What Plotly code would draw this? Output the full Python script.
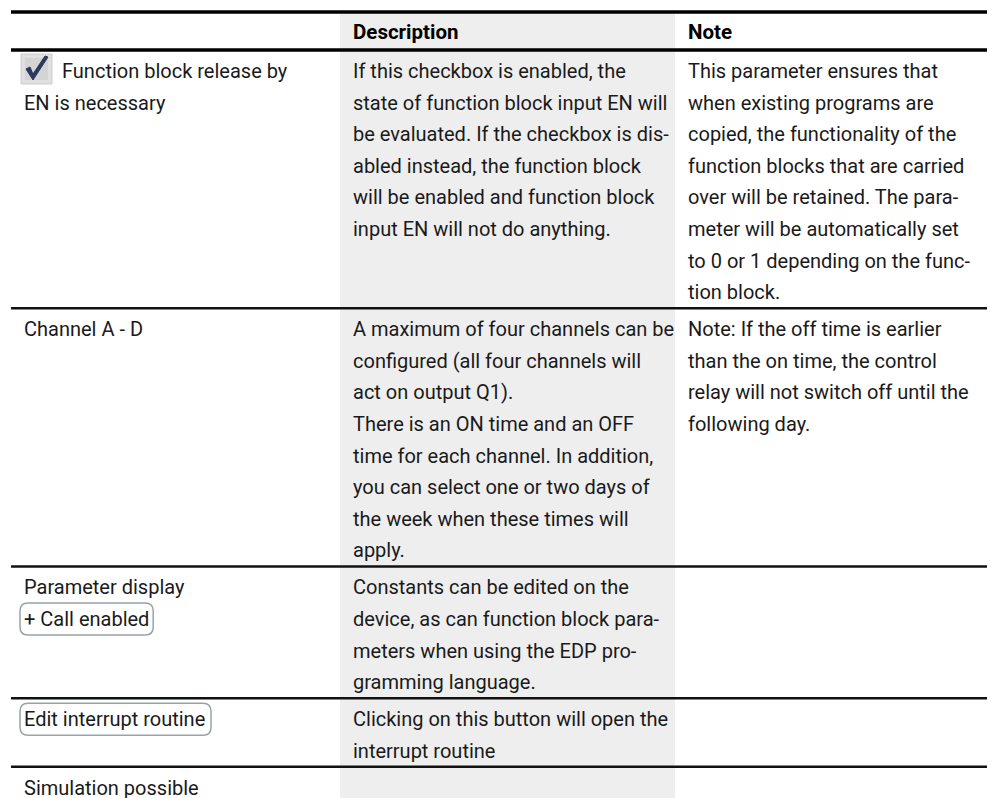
import plotly.graph_objects as go

# ---- table content ----
headers = ["", "Description", "Note"]
col_parameter = [
    ["Function block release by", "EN is necessary"],
    ["Channel A - D"],
    ["Parameter display", "+ Call enabled"],
    ["Edit interrupt routine"],
    ["Simulation possible"],
]
col_description = [
    ["If this checkbox is enabled, the", "state of function block input EN will",
     "be evaluated. If the checkbox is dis-", "abled instead, the function block",
     "will be enabled and function block", "input EN will not do anything."],
    ["A maximum of four channels can be", "configured (all four channels will",
     "act on output Q1).", "There is an ON time and an OFF",
     "time for each channel. In addition,", "you can select one or two days of",
     "the week when these times will", "apply."],
    ["Constants can be edited on the", "device, as can function block para-",
     "meters when using the EDP pro-", "gramming language."],
    ["Clicking on this button will open the", "interrupt routine"],
    [],
]
col_note = [
    ["This parameter ensures that", "when existing programs are",
     "copied, the functionality of the", "function blocks that are carried",
     "over will be retained. The para-", "meter will be automatically set",
     "to 0 or 1 depending on the func-", "tion block."],
    ["Note: If the off time is earlier", "than the on time, the control",
     "relay will not switch off until the", "following day."],
    [], [], [],
]
# which parameter cells are shown as a checkbox / button
checkbox_cells = [(0, 0)]          # (row, line)
button_cells = [(2, 1), (3, 0)]    # (row, line)

# ---- layout constants ----
W, H = 995, 798
OFF = 8            # page body margin around the plot div
FONT = "Roboto, Liberation Sans, Arial, sans-serif"
FS = 20
FS_HEAD = 20.5
TXT = "#1a1a1a"
col_x = [11, 340, 675, W]
pad = 11
top_line = 12
header_bottom = 50
line_h = 31.6
first_off = 21
last_off = 16

# rough glyph advance widths (em) for estimating button outlines
_w = {c: 0.56 for c in "abcdeghknopqsuvxyz0123456789"}
_w.update({"i": 0.25, "l": 0.25, "j": 0.25, "t": 0.34, "f": 0.35, "r": 0.35, "m": 0.875,
           "w": 0.75, " ": 0.26, "+": 0.57, "C": 0.65, "E": 0.58})


def text_width(s):
    return sum(_w.get(ch, 0.6) for ch in s) * FS


fig = go.Figure()
shapes = []
annotations = []

# grey description column
shapes.append(dict(type="rect", xref="x", yref="y", x0=col_x[1], x1=col_x[2],
                   y0=top_line, y1=H + 10, fillcolor="#eeeeee", line_width=0, layer="below"))

# header
for i, h in enumerate(headers):
    if h:
        annotations.append(dict(x=col_x[i] + pad, y=(top_line + header_bottom) / 2 + 0.5, text="<b>%s</b>" % h,
                                xanchor="left", yanchor="middle", showarrow=False,
                                font=dict(family=FONT, size=FS_HEAD, color="#000")))

shapes.append(dict(type="line", xref="x", yref="y", x0=col_x[0], x1=W, y0=top_line, y1=top_line,
                   line=dict(color="#000", width=3.5)))
shapes.append(dict(type="line", xref="x", yref="y", x0=col_x[0], x1=W, y0=header_bottom, y1=header_bottom,
                   line=dict(color="#000", width=3.5)))


def rounded_rect(x0, y0, x1, y1, r):
    return (f"M {x0+r},{y0} L {x1-r},{y0} Q {x1},{y0} {x1},{y0+r} L {x1},{y1-r} "
            f"Q {x1},{y1} {x1-r},{y1} L {x0+r},{y1} Q {x0},{y1} {x0},{y1-r} "
            f"L {x0},{y0+r} Q {x0},{y0} {x0+r},{y0} Z")


y_top = header_bottom
cols = [col_parameter, col_description, col_note]
for r in range(len(col_parameter)):
    n = max(max(len(c[r]) for c in cols), 1)
    height = first_off + (n - 1) * line_h + last_off
    for ci, c in enumerate(cols):
        for li, line in enumerate(c[r]):
            yc = y_top + first_off + li * line_h
            x = col_x[ci] + pad
            if ci == 0 and (r, li) in checkbox_cells:
                bx0, by0 = col_x[0] + 10, yc - 17
                shapes.append(dict(type="rect", xref="x", yref="y", x0=bx0, x1=bx0 + 31, y0=by0, y1=by0 + 30,
                                   fillcolor="#dedede", line=dict(color="#cfcfcf", width=1)))
                shapes.append(dict(type="rect", xref="x", yref="y", x0=bx0 + 3, x1=bx0 + 28, y0=by0 + 3, y1=by0 + 27,
                                   fillcolor="#d4d4d4", line=dict(color="#e8e8e8", width=1)))
                shapes.append(dict(type="path", xref="x", yref="y",
                                   path=f"M {bx0+5},{by0+15} L {bx0+12},{by0+26} L {bx0+27},{by0+3} "
                                        f"L {bx0+24},{by0+2} L {bx0+12},{by0+20} L {bx0+9},{by0+13} Z",
                                   fillcolor="#2b3a5c", line=dict(color="#2b3a5c", width=1)))
                x = bx0 + 39
            if ci == 0 and (r, li) in button_cells:
                w = text_width(line)
                shapes.append(dict(type="path", xref="x", yref="y",
                                   path=rounded_rect(x - 2, yc - 16, x + w + 3, yc + 16, 8),
                                   line=dict(color="#98a4a4", width=1.5)))
            annotations.append(dict(x=x, y=yc, text=line, xanchor="left", yanchor="middle",
                                    showarrow=False, font=dict(family=FONT, size=FS, color=TXT)))
    y_top += height
    if y_top < H:
        shapes.append(dict(type="line", xref="x", yref="y", x0=col_x[0], x1=W, y0=y_top, y1=y_top,
                           line=dict(color="#111", width=2.5)))

fig.update_layout(
    width=W - OFF, height=H - OFF, margin=dict(l=0, r=0, t=0, b=0),
    paper_bgcolor="white", plot_bgcolor="white",
    xaxis=dict(range=[OFF, W], visible=False, fixedrange=True),
    yaxis=dict(range=[H, OFF], visible=False, fixedrange=True),
    shapes=shapes, annotations=annotations, showlegend=False,
)
fig.write_html("out.html", config={"displayModeBar": False})
